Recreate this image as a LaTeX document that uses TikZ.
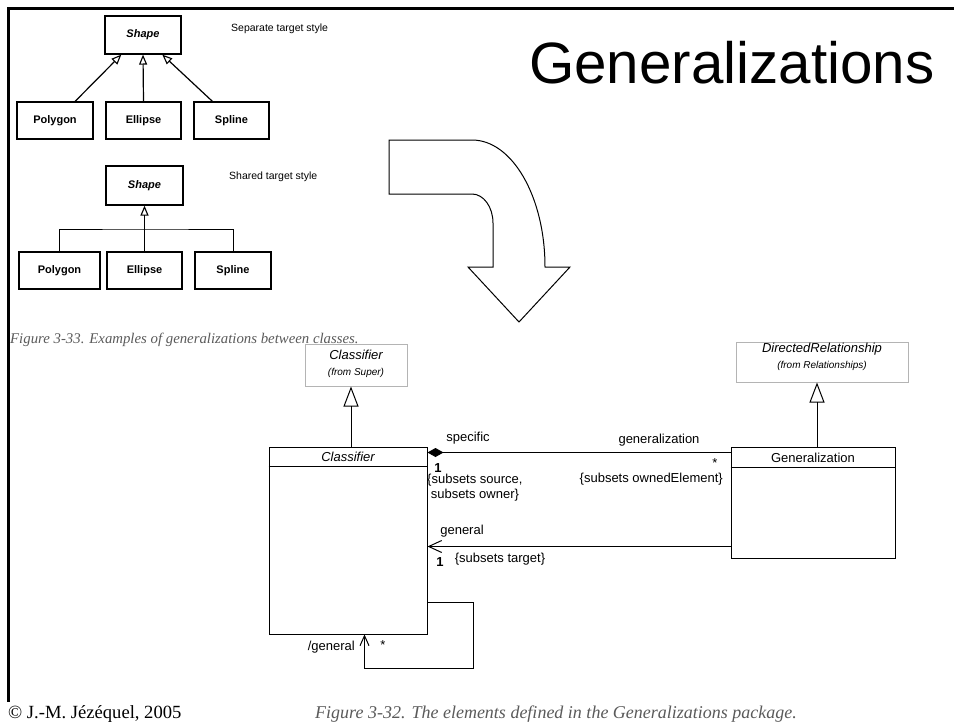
\documentclass[tikz,border=0pt]{standalone}
\usepackage{fontspec}
\setmainfont{Liberation Serif}
\setsansfont{Liberation Sans}
\usetikzlibrary{arrows.meta,calc}
\definecolor{capgray}{HTML}{5A5A5A}
\definecolor{boxgray}{HTML}{B4B4B4}
\begin{document}
\begin{tikzpicture}[x=1pt,y=-1pt,
  shapebox/.style={draw, line width=1.2pt, inner sep=0pt,
    font=\sffamily\bfseries\fontsize{11}{13}\selectfont},
  umlbox/.style={draw, line width=1pt, inner sep=0pt},
  superbox/.style={draw=boxgray, line width=1pt, inner sep=0pt},
  lbl/.style={inner sep=0pt, font=\sffamily\fontsize{13}{15}\selectfont},
  ilbl/.style={inner sep=0pt, font=\sffamily\itshape\fontsize{13}{15}\selectfont},
  from/.style={inner sep=0pt, font=\sffamily\itshape\fontsize{10}{12}\selectfont},
  mult/.style={inner sep=0pt, font=\sffamily\bfseries\fontsize{13}{15}\selectfont},
  note/.style={inner sep=0pt, anchor=west, font=\sffamily\fontsize{10.5}{12}\selectfont},
  smallgen/.style={line width=1.2pt, -{Triangle[open,length=10pt,width=8pt,line width=1.1pt]}},
  biggen/.style={line width=1pt, -{Triangle[open,length=20pt,width=15pt,line width=1pt]}},
  assoc/.style={line width=1pt}
]
\useasboundingbox (0,0) rectangle (954,723);

% slide frame
\draw[line width=3pt] (954,8.5) -- (8.5,8.5) -- (8.5,702);

% title
\node[anchor=base west, inner sep=0pt, font=\sffamily\fontsize{58.3}{60}\selectfont] (title) at (529,83) {Generalizations};

% separate target style
\node[shapebox, minimum width=76pt, minimum height=38pt] (shapeA) at (143,35) {\textit{Shape}};
\node[shapebox, minimum width=76pt, minimum height=37pt] (polyA) at (55,120.5) {Polygon};
\node[shapebox, minimum width=75pt, minimum height=37pt] (ellA) at (143.5,120.5) {Ellipse};
\node[shapebox, minimum width=75pt, minimum height=37pt] (splA) at (231.5,120.5) {Spline};
\node[note] (sepnote) at (231,29) {Separate target style};
\draw[smallgen] ($(polyA.north west)!0.76!(polyA.north east)$) -- ($(shapeA.south west)!0.22!(shapeA.south east)$);
\draw[smallgen] (ellA.north) -- (shapeA.south);
\draw[smallgen] ($(splA.north west)!0.25!(splA.north east)$) -- ($(shapeA.south west)!0.75!(shapeA.south east)$);

% shared target style
\node[shapebox, minimum width=77pt, minimum height=39pt] (shapeB) at (144.5,185.5) {\textit{Shape}};
\node[shapebox, minimum width=81pt, minimum height=37pt] (polyB) at (59.5,270.5) {Polygon};
\node[shapebox, minimum width=75pt, minimum height=37pt] (ellB) at (144.5,270.5) {Ellipse};
\node[shapebox, minimum width=76pt, minimum height=37pt] (splB) at (233,270.5) {Spline};
\node[note] (sharednote) at (229,177) {Shared target style};
\coordinate (bar) at (144.5,229);
\draw[line width=1pt] (polyB.north) |- (bar) -| (splB.north);
\draw[smallgen] (ellB.north) -- (shapeB.south);

\node[anchor=base west, inner sep=0pt, text=capgray, font=\itshape\fontsize{14.8}{16}\selectfont] (capA) at (10,343) {Figure 3-33. Examples of generalizations between classes.};

% bent block arrow
\draw[line width=1pt, line join=miter]
  (389,140) -- (472,140)
  .. controls (512.3,140) and (545,196.9) .. (545,267)
  -- (570,267) -- (519,322) -- (468,267) -- (493,267) -- (493,223)
  .. controls (493,207) and (483.6,194) .. (472,194)
  -- (389,194) -- cycle;

% metamodel classes
\node[superbox, minimum width=102pt, minimum height=42pt] (super) at (356,365) {};
\node[ilbl] (supername) at (356,355) {Classifier};
\node[from] (superfrom) at (356,373) {(from Super)};

\node[superbox, minimum width=172pt, minimum height=40pt] (dirrel) at (822,362) {};
\node[ilbl] (dirrelname) at (822,349) {DirectedRelationship};
\node[from] (dirrelfrom) at (822,366) {(from Relationships)};

\node[umlbox, minimum width=158pt, minimum height=187pt] (cls) at (348,540.5) {};
\node[ilbl] (clsname) at (348,457) {Classifier};
\draw[line width=1pt] ($(cls.north west)+(0,20)$) -- ($(cls.north east)+(0,20)$);

\node[umlbox, minimum width=164pt, minimum height=111pt] (gen) at (813,502.5) {};
\node[lbl] (genname) at (813,458) {Generalization};
\draw[line width=1pt] ($(gen.north west)+(0,21)$) -- ($(gen.north east)+(0,21)$);

% inheritance
\draw[biggen] ($(cls.north)+(3,0)$) -- ($(super.south)+(-5,0)$);
\draw[biggen] ($(gen.north)+(4,0)$) -- ($(dirrel.south)+(-5,0)$);

% specific / generalization composition
\draw[assoc, {Diamond[length=16pt,width=9pt]}-] ($(cls.north east)+(0,6)$) -- ($(gen.north west)+(0,6)$);
\node[lbl] (specific) at (468,438) {specific};
\node[mult] (specmult) at (438,468) {1};
\node[lbl, anchor=north west, align=left, font=\sffamily\fontsize{13}{15}\selectfont] (specsub) at (427,474) {\{subsets source,\\\ subsets owner\}};
\node[lbl] (genrole) at (659,440) {generalization};
\node[lbl] (genmult) at (715,463) {*};
\node[lbl, anchor=east] (gensub) at (723,479.5) {\{subsets ownedElement\}};

% general association
\draw[assoc, -{Straight Barb[length=13pt,width=12pt,line width=1pt]}] ($(gen.north west)+(0,100)$) -- ($(cls.north east)+(0,100)$);
\node[lbl] (general) at (462,531) {general};
\node[mult] (genlmult) at (440,562) {1};
\node[lbl] (targetsub) at (500,559) {\{subsets target\}};

% derived /general self association
\draw[assoc, -{Straight Barb[length=10pt,width=9pt,line width=1pt]}] ($(cls.north east)+(0,156)$) -- ++(46,0) |- ($(cls.south west)+(96,34)$) -- ($(cls.south west)+(96,0)$);
\node[lbl, anchor=east] (dgeneral) at (355,647) {/general};
\node[lbl] (dmult) at (383,645) {*};

% footer
\node[anchor=base west, inner sep=0pt, font=\fontsize{18.6}{20}\selectfont] (copy) at (8,718) {© J.-M. Jézéquel, 2005};
\node[anchor=base west, inner sep=0pt, text=capgray, font=\itshape\fontsize{18}{20}\selectfont] (capB) at (315,718) {Figure 3-32. The elements defined in the Generalizations package.};
\end{tikzpicture}
\end{document}
